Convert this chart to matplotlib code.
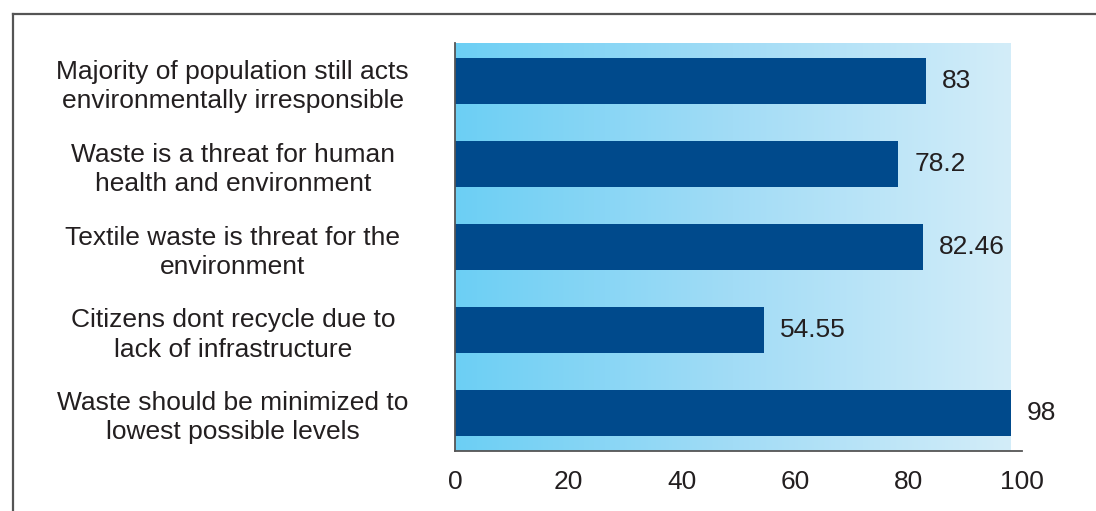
import numpy as np
import matplotlib.pyplot as plt
from matplotlib.colors import LinearSegmentedColormap
from matplotlib.lines import Line2D

plt.rcParams['font.family'] = ['Liberation Sans', 'DejaVu Sans']

labels = ["Majority of population still acts\nenvironmentally irresponsible",
          "Waste is a threat for human\nhealth and environment",
          "Textile waste is threat for the\nenvironment",
          "Citizens dont recycle due to\nlack of infrastructure",
          "Waste should be minimized to\nlowest possible levels"]
values = [83, 78.2, 82.46, 54.55, 98]
value_text = ["83", "78.2", "82.46", "54.55", "98"]
xticks = [0, 20, 40, 60, 80, 100]

txt = '#231f20'
bar_col = '#004a8c'

fig = plt.figure(figsize=(10.96, 5.11), dpi=100)
ax = fig.add_axes([455/1096, 1-451/511, (1022-455)/1096, (451-43)/511])

# frame around the figure (cut at right and bottom)
fig.add_artist(Line2D([13/1096, 1.0], [1-14/511, 1-14/511], color='#555555', lw=1.6))
fig.add_artist(Line2D([13/1096, 13/1096], [0.0, 1-14/511], color='#555555', lw=1.6))

ylo, yhi = -0.46, 4.46
cmap = LinearSegmentedColormap.from_list('bg', ['#6ccff4', '#a2dcf6', '#d3edf9'])
grad = np.linspace(0, 1, 256).reshape(1, -1)
ax.imshow(grad, cmap=cmap, aspect='auto', extent=(0, 98, ylo, yhi), zorder=0)

pos = np.arange(len(values))
ax.barh(pos, values, height=0.555, color=bar_col, zorder=2)
for p, v, t in zip(pos, values, value_text):
    ax.text(v + 2.8, p, t, va='center', ha='left', fontsize=19, color=txt)

ax.set_xlim(0, 100)
ax.set_ylim(yhi, ylo)
ax.set_xticks(xticks)
ax.set_xticklabels([str(x) for x in xticks], fontsize=19, color=txt)
ax.set_yticks(pos)
ax.set_yticklabels(labels, fontsize=19, color=txt, ha='center', linespacing=1.27)
ax.tick_params(axis='y', length=0, pad=160)
ax.tick_params(axis='x', length=0, pad=14)

for s in ['top', 'right']:
    ax.spines[s].set_visible(False)
for s in ['left', 'bottom']:
    ax.spines[s].set_color('#555555')
    ax.spines[s].set_linewidth(1.3)
    ax.spines[s].set_zorder(3)

fig.savefig('out.png', dpi=100)
